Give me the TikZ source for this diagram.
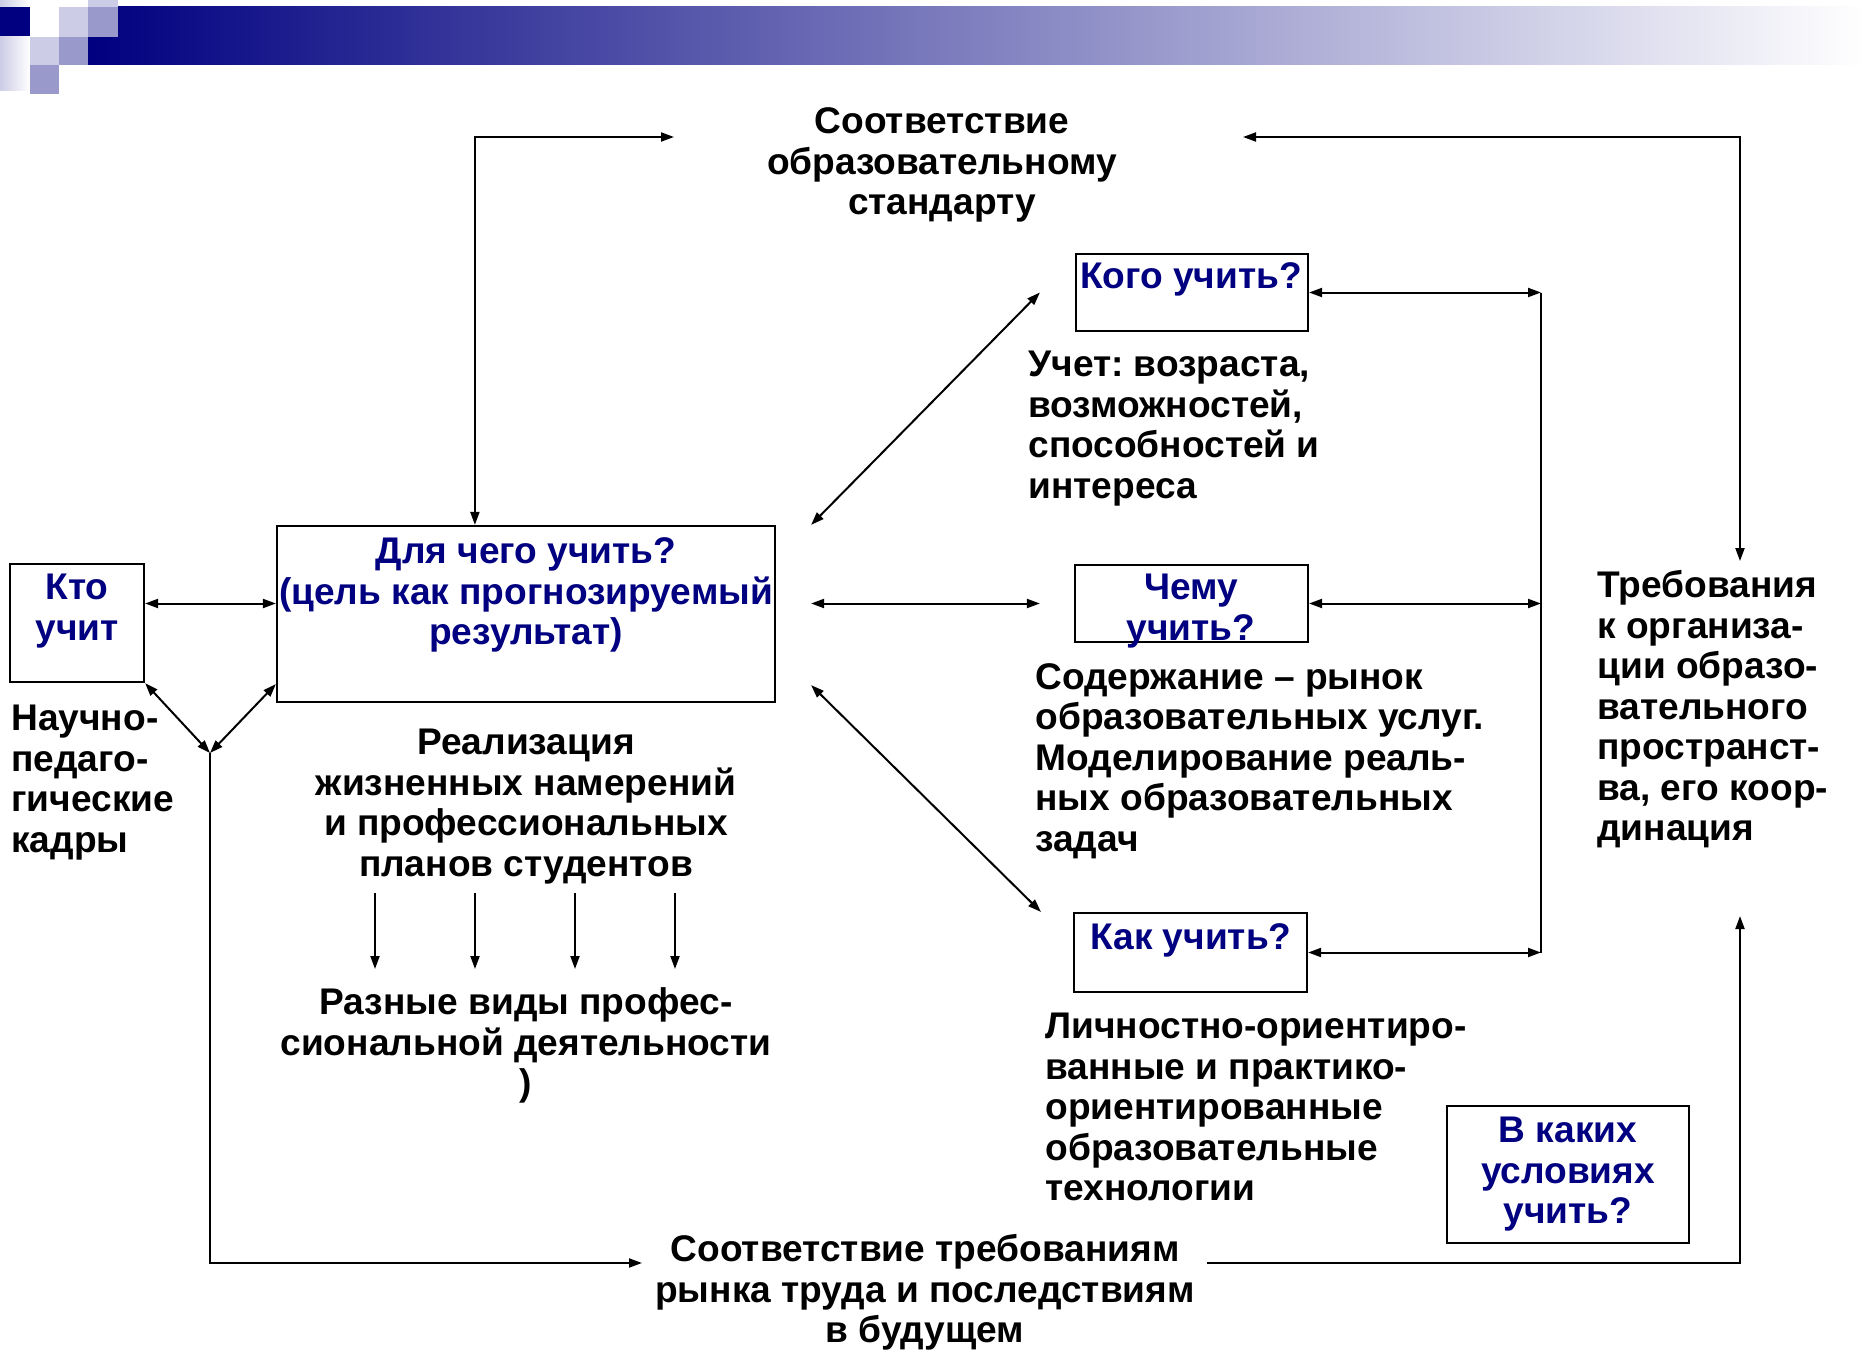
\documentclass[tikz,border=0pt]{standalone}
\usepackage{fontspec}
\setmainfont{Liberation Sans}
\frenchspacing
\usetikzlibrary{arrows.meta,calc}
\definecolor{navy}{RGB}{0,0,128}
\definecolor{lav}{RGB}{204,204,230}
\definecolor{lavm}{RGB}{153,153,204}
\begin{document}
\begin{tikzpicture}[x=0.5pt,y=-0.5pt,
  txt/.style={font=\fontsize{18.55pt}{20.25pt}\selectfont\bfseries\frenchspacing, inner sep=0pt, anchor=north, align=center},
  ltxt/.style={txt, anchor=north west, align=left},
  btxt/.style={txt, text=navy},
  box/.style={draw, line width=1.1pt, inner sep=0pt},
  arr/.style={line width=1pt, -{Triangle[length=6.5pt,width=4.5pt]}},
  darr/.style={line width=1pt, {Triangle[length=6.5pt,width=4.5pt]}-{Triangle[length=6.5pt,width=4.5pt]}}]
\useasboundingbox (0,0) rectangle (1865,1354);
% header
\shade[left color=navy, right color=white] (88,7) rectangle (1865,65);
\fill[navy] (0,7) rectangle (30,37);
\fill[white] (30,7) rectangle (59,37);
\fill[lav] (59,7) rectangle (88,37);
\fill[lavm] (88,7) rectangle (118,37);
\fill[lav] (88,0) rectangle (118,7);
\shade[left color=lav, right color=white] (0,0) rectangle (30,7);
\shade[left color=lav, right color=white] (0,37) rectangle (30,91);
\fill[lav] (30,37) rectangle (59,65);
\fill[lavm] (59,37) rectangle (88,65);
\fill[lavm] (30,65) rectangle (59,94);
% boxes
\node[box, minimum width=67pt, minimum height=59pt] (who) at (77,623) {};
\node[box, minimum width=249pt, minimum height=88pt] (goal) at (526,614) {};
\node[box, minimum width=116pt, minimum height=38.5pt] (kogo) at (1192,292.5) {};
\node[box, minimum width=116.5pt, minimum height=38.5pt] (chemu) at (1191.5,603.5) {};
\node[box, minimum width=116.5pt, minimum height=39.5pt] (kak) at (1190.5,952.5) {};
\node[box, minimum width=121pt, minimum height=68.5pt] (usl) at (1568,1174.5) {};
% texts
\node[txt] (std) at (942,105) {\strut Соответствие\\образовательному\\стандарту};
\node[btxt] (goalt) at (526,535) {\strut Для чего учить?\\(цель как прогнозируемый\\результат)};
\node[btxt] (whot) at (77,571) {\strut Кто\\учит};
\node[ltxt] (sci) at (11,702) {\strut Научно-\\педаго-\\гические\\кадры};
\node[txt] (real) at (526,726) {\strut Реализация\\жизненных намерений\\и профессиональных\\планов студентов\strut};
\node[txt] (prof) at (526,986) {\strut Разные виды профес-\\сиональной деятельности\\)};
\node[btxt] (kogot) at (1191,260) {\strut Кого учить?};
\node[ltxt] (uchet) at (1028,348) {\strut Учет: возраста,\\возможностей,\\способностей и\\интереса};
\node[btxt] (chemut) at (1191,571) {\strut Чему\\учить?};
\node[ltxt] (soder) at (1035,660.5) {\strut Содержание – рынок\\образовательных услуг.\\Моделирование реаль-\\ных образовательных\\задач};
\node[btxt] (kakt) at (1191,921) {\strut Как учить?};
\node[ltxt] (lich) at (1045,1010) {\strut Личностно-ориентиро-\\ванные и практико-\\ориентированные\\образовательные\\технологии};
\node[btxt] (uslt) at (1568,1114) {\strut В каких\\условиях\\учить?};
\node[ltxt] (req) at (1597,569) {\strut Требования\\к организа-\\ции образо-\\вательного\\пространст-\\ва, его коор-\\динация};
\node[txt] (mkt) at (925,1233) {\strut Соответствие требованиям\\рынка труда и последствиям\\в будущем};
% free ends
\coordinate (stdL) at (674,137);
\coordinate (stdR) at (1243,137);
\coordinate (reqT) at (1740,561);
\coordinate (reqB) at (1740,916);
\coordinate (jn) at (210,753);
\coordinate (mktL) at (642,1263);
\coordinate (mktR) at (1207,1263);
\coordinate (br) at (1541,0);
% connectors
\draw[darr] ($(goal.north west)+(199,0)$) |- (stdL);
\draw[darr] (stdR) -| (reqT);
\draw[darr] (who.east |- chemu.west) -- (goal.west |- chemu.west);
\draw[darr] (who.south east) -- (jn);
\draw[darr] ($(goal.south west)+(0,-19)$) -- (jn);
\draw[arr] (jn) |- (mktL);
\draw[arr] (mktR) -| (reqB);
\draw[darr] ($(goal.north east)+(35,0)$) -- ($(kogo.west)+(-35,0)$);
\draw[darr] ($(goal.east |- chemu.west)+(35,0)$) -- ($(chemu.west)+(-34,0)$);
\draw[darr] ($(goal.south east)+(35,-18)$) -- ($(kak.north west)+(-32,0)$);
\draw[darr] (kogo.east) -- (kogo.east -| br);
\draw[darr] (chemu.east) -- (chemu.east -| br);
\draw[darr] (kak.east) -- (kak.east -| br);
\draw[line width=1pt] (kogo.east -| br) -- (kak.east -| br);
\foreach \dx in {-151,-51,49,149}
  \draw[arr] ($(real.south)+(\dx,4)$) -- ($(prof.north)+(\dx,-17)$);
\end{tikzpicture}
\end{document}
